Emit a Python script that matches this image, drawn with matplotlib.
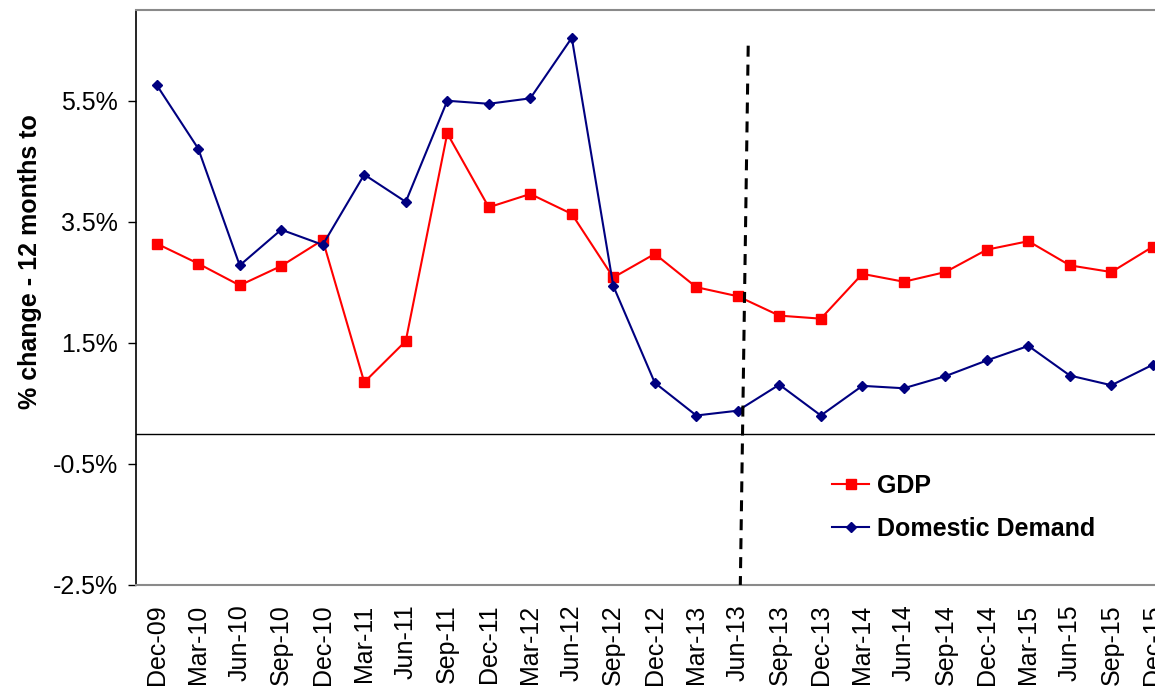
import matplotlib
matplotlib.use("Agg")
import matplotlib.pyplot as plt
from matplotlib.ticker import FixedLocator, FuncFormatter

plt.rcParams["font.family"] = ["Liberation Sans", "DejaVu Sans"]

# ── Data ─────────────────────────────────────────────────────
quarters = [
    "Dec-09", "Mar-10", "Jun-10", "Sep-10", "Dec-10", "Mar-11", "Jun-11",
    "Sep-11", "Dec-11", "Mar-12", "Jun-12", "Sep-12", "Dec-12", "Mar-13",
    "Jun-13", "Sep-13", "Dec-13", "Mar-14", "Jun-14", "Sep-14", "Dec-14",
    "Mar-15", "Jun-15", "Sep-15", "Dec-15",
]
gdp = [
    3.14, 2.81, 2.45, 2.77, 3.20, 0.85, 1.53, 4.96, 3.74, 3.96, 3.63, 2.58,
    2.97, 2.42, 2.27, 1.95, 1.90, 2.64, 2.51, 2.67, 3.04, 3.18, 2.78, 2.67,
    3.09,
]
domestic_demand = [
    5.76, 4.71, 2.78, 3.37, 3.12, 4.28, 3.83, 5.50, 5.45, 5.54, 6.54, 2.44,
    0.84, 0.30, 0.38, 0.81, 0.30, 0.79, 0.75, 0.95, 1.21, 1.45, 0.96, 0.80,
    1.14,
]
y_ticks = [-2.5, -0.5, 1.5, 3.5, 5.5]

# forecast divider (drawn slightly slanted, top to bottom)
divider_x = [14.25, 14.06]
divider_y = [6.41, -2.5]

x = list(range(len(quarters)))

# ── Figure ───────────────────────────────────────────────────
fig = plt.figure(figsize=(11.55, 6.87), dpi=100)
ax = fig.add_axes([0.1177, 0.1485, 0.8823, 0.837])

ax.plot(x, gdp, color="#ff0000", linewidth=1.5, marker="s", markersize=7,
        label="GDP", zorder=3)
ax.plot(x, domestic_demand, color="#000080", linewidth=1.5, marker="D",
        markersize=5, label="Domestic Demand", zorder=3)

ax.axhline(0, color="black", linewidth=1.0, zorder=1)
ax.plot(divider_x, divider_y, color="black", linewidth=2.2,
        linestyle=(0, (3.6, 2.6)), zorder=4, clip_on=False)

ax.set_xlim(-0.5, 24.05)
ax.set_ylim(-2.5, 7.0)

ax.set_xticks(x)
ax.set_xticklabels(quarters, rotation=90, fontsize=18)
ax.tick_params(axis="x", length=0, pad=14)

ax.yaxis.set_major_locator(FixedLocator(y_ticks))
ax.yaxis.set_major_formatter(FuncFormatter(lambda v, _: f"{v:.1f}%"))
ax.tick_params(axis="y", direction="out", length=6, width=1.0, pad=7,
               labelsize=18)

ax.set_ylabel("% change - 12 months to", fontsize=18, fontweight="bold")
ax.yaxis.set_label_coords(-0.092, 0.562)

ax.spines["right"].set_visible(False)
ax.spines["top"].set_color("#8a8a8a")
ax.spines["top"].set_linewidth(1.5)
ax.spines["bottom"].set_color("#8a8a8a")
ax.spines["bottom"].set_linewidth(1.5)
ax.spines["left"].set_color("black")
ax.spines["left"].set_linewidth(1.2)

leg = ax.legend(loc="center left", bbox_to_anchor=(0.683, 0.135),
                frameon=False, fontsize=18, handlelength=1.5,
                handletextpad=0.3, labelspacing=0.75, borderpad=0,
                borderaxespad=0)
for t in leg.get_texts():
    t.set_fontweight("bold")

fig.savefig("out.png", dpi=100)
